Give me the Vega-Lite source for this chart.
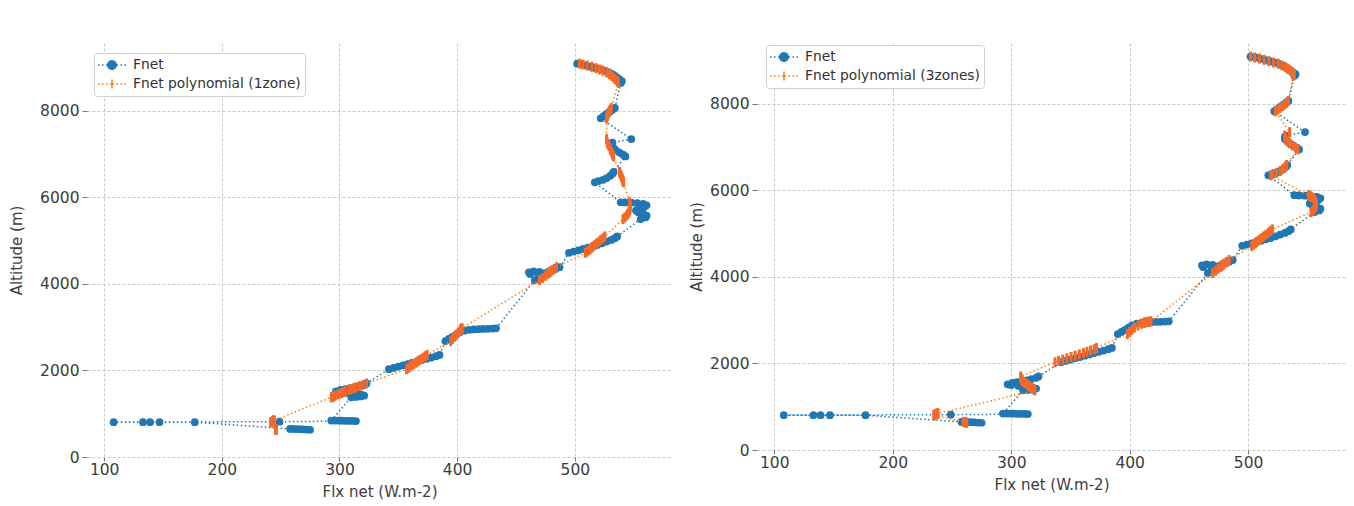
{
"$schema": "https://vega.github.io/schema/vega-lite/v6.json",
"background": "white",
"padding": {"left": 9, "top": 43, "right": 0, "bottom": 0},
"spacing": 17,
"datasets": {"d": [
{"a":630,"f":275,"p1":246,"p3":262.5},
{"a":635,"f":272,"p1":246,"p3":262},
{"a":640,"f":269,"p1":246,"p3":261.5},
{"a":642,"f":266,"p1":246,"p3":261},
{"a":645,"f":263,"p1":246,"p3":260.5},
{"a":648,"f":260,"p1":246,"p3":260},
{"a":650,"f":258,"p1":246,"p3":259.5},
{"a":805,"f":177,"p1":242,"p3":235},
{"a":805,"f":147,"p1":242,"p3":235},
{"a":806,"f":139,"p1":242,"p3":235},
{"a":806,"f":133,"p1":242,"p3":235},
{"a":806,"f":108,"p1":242,"p3":235},
{"a":816,"f":249,"p1":242.5,"p3":235.5},
{"a":832,"f":314,"p1":243.5,"p3":236},
{"a":834,"f":311,"p1":243.5,"p3":236.5},
{"a":836,"f":308,"p1":244,"p3":237},
{"a":838,"f":305,"p1":244,"p3":237},
{"a":840,"f":302,"p1":244,"p3":237.5},
{"a":842,"f":299,"p1":244,"p3":238},
{"a":843,"f":296,"p1":244.5,"p3":238},
{"a":842,"f":293,"p1":244,"p3":238},
{"a":1380,"f":310,"p1":293,"p3":320},
{"a":1390,"f":314,"p1":294,"p3":319.5},
{"a":1400,"f":318,"p1":295,"p3":319},
{"a":1420,"f":321,"p1":296.5,"p3":318},
{"a":1450,"f":318,"p1":299,"p3":316.5},
{"a":1470,"f":313,"p1":301,"p3":315.5},
{"a":1480,"f":306,"p1":302,"p3":315},
{"a":1500,"f":300,"p1":303.5,"p3":314},
{"a":1520,"f":297,"p1":305,"p3":313},
{"a":1550,"f":301,"p1":308,"p3":311.5},
{"a":1570,"f":305,"p1":310,"p3":310.5},
{"a":1590,"f":309,"p1":312,"p3":309.5},
{"a":1610,"f":313,"p1":314,"p3":309},
{"a":1640,"f":317,"p1":317,"p3":308.5},
{"a":1670,"f":321,"p1":320,"p3":308},
{"a":1700,"f":323,"p1":323,"p3":308},
{"a":2030,"f":342,"p1":357,"p3":337},
{"a":2060,"f":346,"p1":358.5,"p3":340},
{"a":2090,"f":350,"p1":360,"p3":343.5},
{"a":2120,"f":354,"p1":361.5,"p3":347},
{"a":2150,"f":358,"p1":363,"p3":350.5},
{"a":2180,"f":362,"p1":365,"p3":354},
{"a":2210,"f":366,"p1":366.5,"p3":357.5},
{"a":2240,"f":370,"p1":368,"p3":361},
{"a":2270,"f":374,"p1":370,"p3":364},
{"a":2300,"f":378,"p1":371.5,"p3":367},
{"a":2330,"f":382,"p1":373,"p3":370},
{"a":2360,"f":385,"p1":374.5,"p3":372},
{"a":2680,"f":390,"p1":394.5,"p3":398},
{"a":2730,"f":393,"p1":396,"p3":400},
{"a":2780,"f":396,"p1":398,"p3":402},
{"a":2830,"f":399,"p1":399.5,"p3":404},
{"a":2880,"f":402,"p1":401,"p3":407},
{"a":2920,"f":406,"p1":402.5,"p3":410},
{"a":2940,"f":410,"p1":403,"p3":412},
{"a":2950,"f":414,"p1":403.5,"p3":413},
{"a":2955,"f":418,"p1":403.5,"p3":414},
{"a":2960,"f":422,"p1":403.5,"p3":415},
{"a":2965,"f":426,"p1":404,"p3":416},
{"a":2970,"f":430,"p1":404,"p3":417},
{"a":2975,"f":433,"p1":404,"p3":418},
{"a":4090,"f":466,"p1":470,"p3":470},
{"a":4140,"f":469,"p1":472.5,"p3":472.5},
{"a":4190,"f":472,"p1":475,"p3":474.5},
{"a":4230,"f":462,"p1":477,"p3":476.5},
{"a":4270,"f":461,"p1":478.5,"p3":478},
{"a":4290,"f":465,"p1":479.5,"p3":479},
{"a":4280,"f":470,"p1":479,"p3":479},
{"a":4250,"f":475,"p1":477.5,"p3":477.5},
{"a":4290,"f":478,"p1":479.5,"p3":479},
{"a":4320,"f":481,"p1":481,"p3":480.5},
{"a":4350,"f":484,"p1":482.5,"p3":482},
{"a":4390,"f":487,"p1":484.5,"p3":484},
{"a":4720,"f":495,"p1":509,"p3":503},
{"a":4750,"f":499,"p1":510.5,"p3":504.5},
{"a":4780,"f":503,"p1":512,"p3":506},
{"a":4810,"f":507,"p1":513,"p3":507},
{"a":4840,"f":511,"p1":514.5,"p3":508.5},
{"a":4870,"f":515,"p1":515.5,"p3":510},
{"a":4900,"f":519,"p1":517,"p3":511.5},
{"a":4940,"f":523,"p1":518.5,"p3":513},
{"a":4980,"f":527,"p1":520.5,"p3":515},
{"a":5020,"f":531,"p1":522,"p3":517},
{"a":5060,"f":534,"p1":524,"p3":518.5},
{"a":5100,"f":536,"p1":525.5,"p3":520.5},
{"a":5500,"f":556,"p1":541,"p3":553},
{"a":5540,"f":560,"p1":542.5,"p3":555},
{"a":5580,"f":561,"p1":544,"p3":556},
{"a":5620,"f":558,"p1":545,"p3":557},
{"a":5660,"f":554,"p1":546,"p3":557.5},
{"a":5700,"f":552,"p1":546.5,"p3":557.5},
{"a":5740,"f":555,"p1":547,"p3":557},
{"a":5780,"f":559,"p1":547,"p3":556},
{"a":5820,"f":561,"p1":547,"p3":555},
{"a":5850,"f":558,"p1":547,"p3":553.5},
{"a":5870,"f":553,"p1":546.5,"p3":552.5},
{"a":5880,"f":548,"p1":546.5,"p3":552},
{"a":5885,"f":543,"p1":546.5,"p3":551.5},
{"a":5890,"f":539,"p1":546.5,"p3":551},
{"a":6350,"f":517,"p1":541.5,"p3":519},
{"a":6380,"f":520,"p1":541,"p3":521},
{"a":6410,"f":524,"p1":540.5,"p3":524},
{"a":6450,"f":527,"p1":540,"p3":527},
{"a":6500,"f":530,"p1":539.5,"p3":529.5},
{"a":6550,"f":532,"p1":538.5,"p3":531.5},
{"a":6590,"f":533,"p1":538,"p3":532.5},
{"a":6950,"f":543,"p1":533,"p3":542},
{"a":6990,"f":541,"p1":532,"p3":540},
{"a":7040,"f":538,"p1":531.5,"p3":537.5},
{"a":7090,"f":535,"p1":530.5,"p3":535},
{"a":7140,"f":533,"p1":530,"p3":533},
{"a":7190,"f":531,"p1":529,"p3":531.5},
{"a":7240,"f":531,"p1":528,"p3":531},
{"a":7270,"f":532,"p1":527.5,"p3":531},
{"a":7350,"f":548,"p1":527,"p3":535},
{"a":7830,"f":522,"p1":527,"p3":523},
{"a":7870,"f":524,"p1":527.5,"p3":525},
{"a":7910,"f":526,"p1":528,"p3":527},
{"a":7950,"f":528,"p1":528.5,"p3":529},
{"a":7990,"f":530,"p1":529,"p3":531},
{"a":8030,"f":532,"p1":530,"p3":532.5},
{"a":8070,"f":534,"p1":531,"p3":534},
{"a":8650,"f":539,"p1":537,"p3":538},
{"a":8690,"f":540,"p1":536,"p3":539},
{"a":8730,"f":538,"p1":534.5,"p3":537.5},
{"a":8770,"f":536,"p1":533,"p3":535.5},
{"a":8810,"f":534,"p1":531.5,"p3":533.5},
{"a":8850,"f":532,"p1":529.5,"p3":531.5},
{"a":8890,"f":529,"p1":527,"p3":528.5},
{"a":8930,"f":526,"p1":524,"p3":525.5},
{"a":8960,"f":522,"p1":521,"p3":521.5},
{"a":8990,"f":518,"p1":518,"p3":517.5},
{"a":9020,"f":514,"p1":514.5,"p3":513.5},
{"a":9050,"f":510,"p1":510.5,"p3":509.5},
{"a":9075,"f":506,"p1":507,"p3":505.5},
{"a":9095,"f":502,"p1":504,"p3":502}
]},
"config": {
  "view": {"stroke": null},
  "axis": {"domain": false, "grid": true, "gridColor": "#c8c8c8", "gridDash": [3, 2], "gridWidth": 1,
           "tickColor": "#777777", "tickSize": 5, "labelFont": "DejaVu Sans", "labelFontSize": 15.5,
           "labelColor": "#3c3c3c", "titleFont": "DejaVu Sans", "titleFontSize": 15, "titleFontWeight": "normal",
           "titleColor": "#3c3c3c"},
  "axisX": {"tickSize": 4, "labelPadding": 1, "titlePadding": 7},
  "axisY": {"labelPadding": 3, "titlePadding": 5, "format": "d"},
  "legend": {"labelFont": "DejaVu Sans", "labelFontSize": 13.8, "labelColor": "#333333", "labelLimit": 0,
             "fillColor": "white", "strokeColor": "#d0d0d0", "cornerRadius": 3, "padding": 4, "rowPadding": 3,
             "symbolSize": 196, "symbolOffset": 6, "labelOffset": 13, "symbolStrokeWidth": 1.5, "orient": "none"}
},
"resolve": {"scale": {"color": "independent"}, "legend": {"color": "independent"}},
"hconcat": [
{
  "width": 585, "height": 414,
  "data": {"name": "d"},
  "encoding": {
    "y": {"field": "a", "type": "quantitative", "scale": {"domain": [0, 9572], "nice": false, "zero": false},
          "axis": {"title": "Altitude (m)", "titlePadding": 15, "values": [0, 2000, 4000, 6000, 8000]}}
  },
  "layer": [
    {"mark": {"type": "line", "strokeDash": [1.5, 2.5], "strokeWidth": 1.5},
     "encoding": {
       "x": {"field": "f", "type": "quantitative", "scale": {"domain": [85.4, 582.6], "nice": false, "zero": false},
             "axis": {"title": "Flx net (W.m-2)", "values": [100, 200, 300, 400, 500]}},
       "color": {"datum": "Fnet", "type": "nominal",
                 "scale": {"domain": ["Fnet", "Fnet polynomial (1zone)"], "range": ["#1f77b4", "#ff7f0e"]},
                 "legend": {"title": null, "orient": "none", "legendX": 7, "legendY": 10,
                   "encode": {"symbols": {"update": {
                     "shape": {"signal": "datum.value == 'Fnet' ? 'M-2,0L-1.79,0M-1.43,0L-1.22,0M-0.86,0L-0.65,0M0.65,0L0.86,0M1.22,0L1.43,0M1.79,0L2,0M0.6,0A0.6,0.6,0,1,1,-0.6,0A0.6,0.6,0,1,1,0.6,0Z' : 'M-2,0L-1.79,0M-1.43,0L-1.22,0M-0.86,0L-0.65,0M-0.29,0L-0.08,0M0.08,0L0.29,0M0.65,0L0.86,0M1.22,0L1.43,0M1.79,0L2,0M0,-0.65L0,0.65'"},
                     "fill": {"signal": "datum.value == 'Fnet' ? '#1f77b4' : 'transparent'"},
                     "stroke": {"signal": "datum.value == 'Fnet' ? '#1f77b4' : '#f4692a'"},
                     "strokeWidth": {"value": 1.5},
                     "strokeDash": {"value": [1, 0]},
                     "size": {"value": 196},
                     "opacity": {"value": 1}
                   }}}}},
       "order": {"value": null}
     }},
    {"mark": {"type": "circle", "size": 60, "opacity": 1},
     "encoding": {
       "x": {"field": "f", "type": "quantitative", "axis": {"title": "Flx net (W.m-2)"}},
       "color": {"value": "#1f77b4"}
     }},
    {"mark": {"type": "line", "strokeDash": [1.5, 2.5], "strokeWidth": 1.5},
     "encoding": {
       "x": {"field": "p1", "type": "quantitative", "axis": {"title": "Flx net (W.m-2)"}},
       "color": {"datum": "Fnet polynomial (1zone)", "type": "nominal"},
       "order": {"value": null}
     }},
    {"mark": {"type": "point", "shape": "M0,-1L0,1", "filled": false, "strokeWidth": 3, "size": 100, "opacity": 1},
     "encoding": {
       "x": {"field": "p1", "type": "quantitative", "axis": {"title": "Flx net (W.m-2)"}},
       "color": {"value": "#f4692a"}
     }}
  ]
},
{
  "width": 589, "height": 407,
  "data": {"name": "d"},
  "encoding": {
    "y": {"field": "a", "type": "quantitative", "scale": {"domain": [0, 9410], "nice": false, "zero": false},
          "axis": {"title": "Altitude (m)", "values": [0, 2000, 4000, 6000, 8000]}}
  },
  "layer": [
    {"mark": {"type": "line", "strokeDash": [1.5, 2.5], "strokeWidth": 1.5},
     "encoding": {
       "x": {"field": "f", "type": "quantitative", "scale": {"domain": [85.4, 582.6], "nice": false, "zero": false},
             "axis": {"title": "Flx net (W.m-2)", "values": [100, 200, 300, 400, 500]}},
       "color": {"datum": "Fnet", "type": "nominal",
                 "scale": {"domain": ["Fnet", "Fnet polynomial (3zones)"], "range": ["#1f77b4", "#ff7f0e"]},
                 "legend": {"title": null, "orient": "none", "legendX": 9, "legendY": 2,
                   "encode": {"symbols": {"update": {
                     "shape": {"signal": "datum.value == 'Fnet' ? 'M-2,0L-1.79,0M-1.43,0L-1.22,0M-0.86,0L-0.65,0M0.65,0L0.86,0M1.22,0L1.43,0M1.79,0L2,0M0.6,0A0.6,0.6,0,1,1,-0.6,0A0.6,0.6,0,1,1,0.6,0Z' : 'M-2,0L-1.79,0M-1.43,0L-1.22,0M-0.86,0L-0.65,0M-0.29,0L-0.08,0M0.08,0L0.29,0M0.65,0L0.86,0M1.22,0L1.43,0M1.79,0L2,0M0,-0.65L0,0.65'"},
                     "fill": {"signal": "datum.value == 'Fnet' ? '#1f77b4' : 'transparent'"},
                     "stroke": {"signal": "datum.value == 'Fnet' ? '#1f77b4' : '#f4692a'"},
                     "strokeWidth": {"value": 1.5},
                     "strokeDash": {"value": [1, 0]},
                     "size": {"value": 196},
                     "opacity": {"value": 1}
                   }}}}},
       "order": {"value": null}
     }},
    {"mark": {"type": "circle", "size": 60, "opacity": 1},
     "encoding": {
       "x": {"field": "f", "type": "quantitative", "axis": {"title": "Flx net (W.m-2)"}},
       "color": {"value": "#1f77b4"}
     }},
    {"mark": {"type": "line", "strokeDash": [1.5, 2.5], "strokeWidth": 1.5},
     "encoding": {
       "x": {"field": "p3", "type": "quantitative", "axis": {"title": "Flx net (W.m-2)"}},
       "color": {"datum": "Fnet polynomial (3zones)", "type": "nominal"},
       "order": {"value": null}
     }},
    {"mark": {"type": "point", "shape": "M0,-1L0,1", "filled": false, "strokeWidth": 3, "size": 100, "opacity": 1},
     "encoding": {
       "x": {"field": "p3", "type": "quantitative", "axis": {"title": "Flx net (W.m-2)"}},
       "color": {"value": "#f4692a"}
     }}
  ]
}
]
}
